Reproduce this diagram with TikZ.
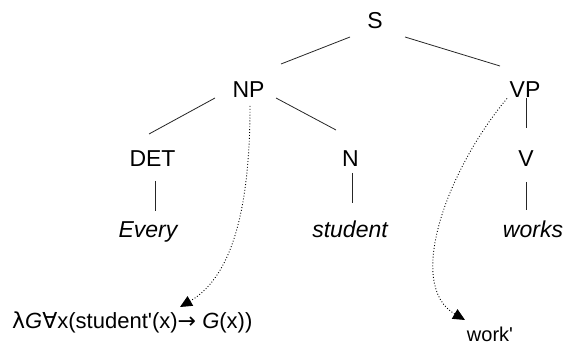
\documentclass[tikz,border=0pt]{standalone}
\usepackage{fontspec}
\setmainfont{Liberation Sans}[Ligatures=TeXOff]
\newfontfamily\symfont{DejaVu Sans}
\usetikzlibrary{arrows.meta,calc}
\begin{document}
\begin{tikzpicture}[x=1pt,y=-1pt,
  lbl/.style={anchor=base,inner sep=0pt,font=\fontsize{23}{27}\selectfont},
  word/.style={lbl,font=\fontsize{23}{27}\selectfont\itshape},
  edge/.style={line width=0.8pt,draw=black!85},
  sem/.style={line width=0.9pt,dotted,-{Triangle[length=12pt,width=11pt]}}]
\useasboundingbox (0,0) rectangle (567,347);
\node[lbl] (S) at (375,28.3) {S};
\node[lbl] (NP) at (248.5,97.3) {NP};
\node[lbl] (VP) at (525,97.5) {VP};
\node[lbl] (DET) at (152.5,166.7) {DET};
\node[lbl] (N) at (350.5,166.7) {N};
\node[lbl] (V) at (526,166.7) {V};
\node[word] (every) at (148,238) {Every};
\node[word] (student) at (350,238) {student};
\node[word] (works) at (533,238) {works};
\node[lbl,anchor=base west,font=\fontsize{22}{27}\selectfont] (lam) at (12,328)
  {{\symfont λ}\textit{G}{\symfont ∀}x(student'(x){\symfont →} \textit{G}(x))};
\node[lbl,font=\fontsize{20}{27}\selectfont] (work) at (490,341) {work'};
% tree edges
\draw[edge] ($(S.base)+(-25,8.7)$) -- ($(NP.base)+(32.5,-33.3)$);
\draw[edge] ($(S.base)+(30,8.7)$) -- ($(VP.base)+(-25,-31.5)$);
\draw[edge] ($(NP.base)+(-33.5,0.7)$) -- ($(DET.base)+(-3.5,-32.7)$);
\draw[edge] ($(NP.base)+(27.5,0.7)$) -- ($(N.base)+(-14.5,-36.7)$);
\draw[edge] ($(VP.base)+(1,0.5)$) -- ($(V.base)+(0,-38.7)$);
\draw[edge] ($(DET.base)+(2.5,14.3)$) -- ($(every.base)+(7,-27)$);
\draw[edge] ($(N.base)+(1.5,6.3)$) -- ($(student.base)+(2,-35)$);
\draw[edge] ($(V.base)+(0,15.3)$) -- ($(works.base)+(-7,-28)$);
% semantic arrows
\draw[sem] ($(NP.base)+(1.5,8.7)$) .. controls (250,200) and (235,275) .. ($(lam.base west)+(168,-21)$);
\draw[sem] ($(VP.base)+(-18,1)$) .. controls (447,170) and (405,285) .. ($(work.base)+(-25,-21)$);
\end{tikzpicture}
\end{document}
